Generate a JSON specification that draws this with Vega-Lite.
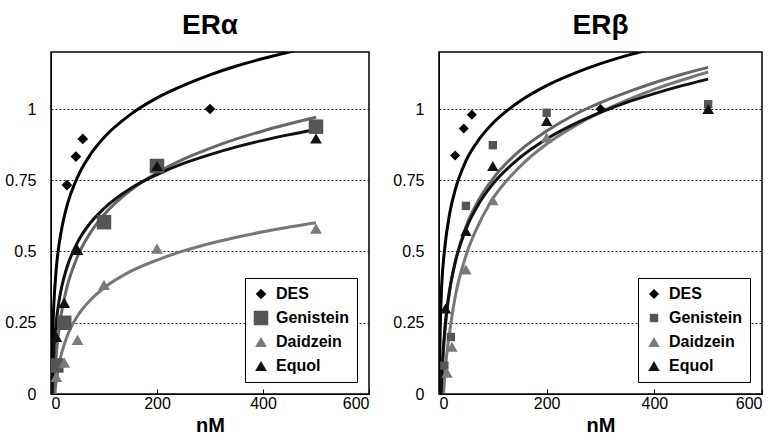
{
  "$schema": "https://vega.github.io/schema/vega-lite/v6.json",
  "padding": {"left": 4, "top": 11, "right": 6, "bottom": 4},
  "spacing": 21,
  "config": {
    "font": "Liberation Sans",
    "view": {"stroke": "black", "strokeWidth": 1.5},
    "title": {"fontSize": 28, "fontWeight": "bold", "offset": 12, "color": "black", "anchor": "middle"},
    "axis": {"labelFontSize": 16, "labelColor": "black", "titleFontSize": 20, "titleFontWeight": "bold", "titleColor": "black", "domainColor": "black", "tickColor": "black"},
    "legend": {"orient": "bottom-right", "offset": 12, "strokeColor": "black", "fillColor": "white", "padding": 8, "labelFontWeight": "bold", "labelFontSize": 16, "labelColor": "black", "rowPadding": 8, "symbolStrokeWidth": 0, "labelOffset": 7, "cornerRadius": 0}
  },
  "datasets": {
    "curves": [
      {"receptor": "ERα", "compound": "DES", "x": 1.2, "y": 0.015},
      {"receptor": "ERα", "compound": "DES", "x": 2, "y": 0.118},
      {"receptor": "ERα", "compound": "DES", "x": 3, "y": 0.199},
      {"receptor": "ERα", "compound": "DES", "x": 5, "y": 0.301},
      {"receptor": "ERα", "compound": "DES", "x": 10, "y": 0.44},
      {"receptor": "ERα", "compound": "DES", "x": 20, "y": 0.578},
      {"receptor": "ERα", "compound": "DES", "x": 30, "y": 0.659},
      {"receptor": "ERα", "compound": "DES", "x": 50, "y": 0.761},
      {"receptor": "ERα", "compound": "DES", "x": 75, "y": 0.842},
      {"receptor": "ERα", "compound": "DES", "x": 100, "y": 0.9},
      {"receptor": "ERα", "compound": "DES", "x": 150, "y": 0.981},
      {"receptor": "ERα", "compound": "DES", "x": 200, "y": 1.039},
      {"receptor": "ERα", "compound": "DES", "x": 250, "y": 1.083},
      {"receptor": "ERα", "compound": "DES", "x": 300, "y": 1.12},
      {"receptor": "ERα", "compound": "DES", "x": 350, "y": 1.151},
      {"receptor": "ERα", "compound": "DES", "x": 400, "y": 1.177},
      {"receptor": "ERα", "compound": "DES", "x": 470, "y": 1.209},
      {"receptor": "ERα", "compound": "DES", "x": 500, "y": 1.222},
      {"receptor": "ERα", "compound": "Daidzein", "x": 7.3, "y": 0.0},
      {"receptor": "ERα", "compound": "Daidzein", "x": 10, "y": 0.045},
      {"receptor": "ERα", "compound": "Daidzein", "x": 15, "y": 0.103},
      {"receptor": "ERα", "compound": "Daidzein", "x": 20, "y": 0.143},
      {"receptor": "ERα", "compound": "Daidzein", "x": 30, "y": 0.201},
      {"receptor": "ERα", "compound": "Daidzein", "x": 50, "y": 0.274},
      {"receptor": "ERα", "compound": "Daidzein", "x": 75, "y": 0.331},
      {"receptor": "ERα", "compound": "Daidzein", "x": 100, "y": 0.372},
      {"receptor": "ERα", "compound": "Daidzein", "x": 150, "y": 0.43},
      {"receptor": "ERα", "compound": "Daidzein", "x": 200, "y": 0.47},
      {"receptor": "ERα", "compound": "Daidzein", "x": 250, "y": 0.502},
      {"receptor": "ERα", "compound": "Daidzein", "x": 300, "y": 0.528},
      {"receptor": "ERα", "compound": "Daidzein", "x": 350, "y": 0.55},
      {"receptor": "ERα", "compound": "Daidzein", "x": 400, "y": 0.569},
      {"receptor": "ERα", "compound": "Daidzein", "x": 450, "y": 0.586},
      {"receptor": "ERα", "compound": "Daidzein", "x": 500, "y": 0.601},
      {"receptor": "ERα", "compound": "Genistein", "x": 5.2, "y": 0.003},
      {"receptor": "ERα", "compound": "Genistein", "x": 7, "y": 0.066},
      {"receptor": "ERα", "compound": "Genistein", "x": 10, "y": 0.141},
      {"receptor": "ERα", "compound": "Genistein", "x": 15, "y": 0.227},
      {"receptor": "ERα", "compound": "Genistein", "x": 20, "y": 0.288},
      {"receptor": "ERα", "compound": "Genistein", "x": 30, "y": 0.374},
      {"receptor": "ERα", "compound": "Genistein", "x": 50, "y": 0.482},
      {"receptor": "ERα", "compound": "Genistein", "x": 75, "y": 0.568},
      {"receptor": "ERα", "compound": "Genistein", "x": 100, "y": 0.629},
      {"receptor": "ERα", "compound": "Genistein", "x": 150, "y": 0.715},
      {"receptor": "ERα", "compound": "Genistein", "x": 200, "y": 0.776},
      {"receptor": "ERα", "compound": "Genistein", "x": 250, "y": 0.824},
      {"receptor": "ERα", "compound": "Genistein", "x": 300, "y": 0.862},
      {"receptor": "ERα", "compound": "Genistein", "x": 350, "y": 0.895},
      {"receptor": "ERα", "compound": "Genistein", "x": 400, "y": 0.923},
      {"receptor": "ERα", "compound": "Genistein", "x": 450, "y": 0.948},
      {"receptor": "ERα", "compound": "Genistein", "x": 500, "y": 0.971},
      {"receptor": "ERα", "compound": "Equol", "x": 2.3, "y": 0.002},
      {"receptor": "ERα", "compound": "Equol", "x": 3, "y": 0.048},
      {"receptor": "ERα", "compound": "Equol", "x": 5, "y": 0.136},
      {"receptor": "ERα", "compound": "Equol", "x": 7, "y": 0.194},
      {"receptor": "ERα", "compound": "Equol", "x": 10, "y": 0.255},
      {"receptor": "ERα", "compound": "Equol", "x": 15, "y": 0.325},
      {"receptor": "ERα", "compound": "Equol", "x": 20, "y": 0.374},
      {"receptor": "ERα", "compound": "Equol", "x": 30, "y": 0.444},
      {"receptor": "ERα", "compound": "Equol", "x": 50, "y": 0.532},
      {"receptor": "ERα", "compound": "Equol", "x": 75, "y": 0.602},
      {"receptor": "ERα", "compound": "Equol", "x": 100, "y": 0.651},
      {"receptor": "ERα", "compound": "Equol", "x": 150, "y": 0.721},
      {"receptor": "ERα", "compound": "Equol", "x": 200, "y": 0.77},
      {"receptor": "ERα", "compound": "Equol", "x": 250, "y": 0.809},
      {"receptor": "ERα", "compound": "Equol", "x": 300, "y": 0.84},
      {"receptor": "ERα", "compound": "Equol", "x": 350, "y": 0.867},
      {"receptor": "ERα", "compound": "Equol", "x": 400, "y": 0.89},
      {"receptor": "ERα", "compound": "Equol", "x": 450, "y": 0.91},
      {"receptor": "ERα", "compound": "Equol", "x": 500, "y": 0.928},
      {"receptor": "ERβ", "compound": "DES", "x": 0.7, "y": 0.007},
      {"receptor": "ERβ", "compound": "DES", "x": 1, "y": 0.075},
      {"receptor": "ERβ", "compound": "DES", "x": 2, "y": 0.207},
      {"receptor": "ERβ", "compound": "DES", "x": 3, "y": 0.284},
      {"receptor": "ERβ", "compound": "DES", "x": 5, "y": 0.381},
      {"receptor": "ERβ", "compound": "DES", "x": 10, "y": 0.5},
      {"receptor": "ERβ", "compound": "DES", "x": 20, "y": 0.635},
      {"receptor": "ERβ", "compound": "DES", "x": 30, "y": 0.715},
      {"receptor": "ERβ", "compound": "DES", "x": 50, "y": 0.818},
      {"receptor": "ERβ", "compound": "DES", "x": 75, "y": 0.895},
      {"receptor": "ERβ", "compound": "DES", "x": 100, "y": 0.95},
      {"receptor": "ERβ", "compound": "DES", "x": 150, "y": 1.027},
      {"receptor": "ERβ", "compound": "DES", "x": 200, "y": 1.082},
      {"receptor": "ERβ", "compound": "DES", "x": 250, "y": 1.124},
      {"receptor": "ERβ", "compound": "DES", "x": 300, "y": 1.159},
      {"receptor": "ERβ", "compound": "DES", "x": 350, "y": 1.188},
      {"receptor": "ERβ", "compound": "DES", "x": 400, "y": 1.213},
      {"receptor": "ERβ", "compound": "Genistein", "x": 4.5, "y": 0.001},
      {"receptor": "ERβ", "compound": "Genistein", "x": 7, "y": 0.109},
      {"receptor": "ERβ", "compound": "Genistein", "x": 10, "y": 0.196},
      {"receptor": "ERβ", "compound": "Genistein", "x": 15, "y": 0.294},
      {"receptor": "ERβ", "compound": "Genistein", "x": 20, "y": 0.364},
      {"receptor": "ERβ", "compound": "Genistein", "x": 30, "y": 0.462},
      {"receptor": "ERβ", "compound": "Genistein", "x": 50, "y": 0.587},
      {"receptor": "ERβ", "compound": "Genistein", "x": 75, "y": 0.685},
      {"receptor": "ERβ", "compound": "Genistein", "x": 100, "y": 0.755},
      {"receptor": "ERβ", "compound": "Genistein", "x": 150, "y": 0.854},
      {"receptor": "ERβ", "compound": "Genistein", "x": 200, "y": 0.923},
      {"receptor": "ERβ", "compound": "Genistein", "x": 250, "y": 0.978},
      {"receptor": "ERβ", "compound": "Genistein", "x": 300, "y": 1.022},
      {"receptor": "ERβ", "compound": "Genistein", "x": 350, "y": 1.059},
      {"receptor": "ERβ", "compound": "Genistein", "x": 400, "y": 1.092},
      {"receptor": "ERβ", "compound": "Genistein", "x": 450, "y": 1.121},
      {"receptor": "ERβ", "compound": "Genistein", "x": 500, "y": 1.146},
      {"receptor": "ERβ", "compound": "Daidzein", "x": 8.5, "y": 0.002},
      {"receptor": "ERβ", "compound": "Daidzein", "x": 10, "y": 0.047},
      {"receptor": "ERβ", "compound": "Daidzein", "x": 15, "y": 0.15},
      {"receptor": "ERβ", "compound": "Daidzein", "x": 20, "y": 0.22},
      {"receptor": "ERβ", "compound": "Daidzein", "x": 30, "y": 0.34},
      {"receptor": "ERβ", "compound": "Daidzein", "x": 50, "y": 0.485},
      {"receptor": "ERβ", "compound": "Daidzein", "x": 75, "y": 0.6},
      {"receptor": "ERβ", "compound": "Daidzein", "x": 100, "y": 0.685},
      {"receptor": "ERβ", "compound": "Daidzein", "x": 150, "y": 0.797},
      {"receptor": "ERβ", "compound": "Daidzein", "x": 200, "y": 0.877},
      {"receptor": "ERβ", "compound": "Daidzein", "x": 250, "y": 0.938},
      {"receptor": "ERβ", "compound": "Daidzein", "x": 300, "y": 0.989},
      {"receptor": "ERβ", "compound": "Daidzein", "x": 350, "y": 1.032},
      {"receptor": "ERβ", "compound": "Daidzein", "x": 400, "y": 1.069},
      {"receptor": "ERβ", "compound": "Daidzein", "x": 450, "y": 1.101},
      {"receptor": "ERβ", "compound": "Daidzein", "x": 500, "y": 1.13},
      {"receptor": "ERβ", "compound": "Equol", "x": 4, "y": 0.0},
      {"receptor": "ERβ", "compound": "Equol", "x": 5, "y": 0.051},
      {"receptor": "ERβ", "compound": "Equol", "x": 7, "y": 0.128},
      {"receptor": "ERβ", "compound": "Equol", "x": 10, "y": 0.209},
      {"receptor": "ERβ", "compound": "Equol", "x": 15, "y": 0.302},
      {"receptor": "ERβ", "compound": "Equol", "x": 20, "y": 0.368},
      {"receptor": "ERβ", "compound": "Equol", "x": 30, "y": 0.461},
      {"receptor": "ERβ", "compound": "Equol", "x": 50, "y": 0.578},
      {"receptor": "ERβ", "compound": "Equol", "x": 75, "y": 0.671},
      {"receptor": "ERβ", "compound": "Equol", "x": 100, "y": 0.737},
      {"receptor": "ERβ", "compound": "Equol", "x": 150, "y": 0.829},
      {"receptor": "ERβ", "compound": "Equol", "x": 200, "y": 0.895},
      {"receptor": "ERβ", "compound": "Equol", "x": 250, "y": 0.946},
      {"receptor": "ERβ", "compound": "Equol", "x": 300, "y": 0.988},
      {"receptor": "ERβ", "compound": "Equol", "x": 350, "y": 1.024},
      {"receptor": "ERβ", "compound": "Equol", "x": 400, "y": 1.054},
      {"receptor": "ERβ", "compound": "Equol", "x": 450, "y": 1.081},
      {"receptor": "ERβ", "compound": "Equol", "x": 500, "y": 1.105}
    ],
    "points": [
      {"receptor": "ERα", "compound": "DES", "x": 30, "y": 0.733},
      {"receptor": "ERα", "compound": "DES", "x": 47, "y": 0.833},
      {"receptor": "ERα", "compound": "DES", "x": 60, "y": 0.895},
      {"receptor": "ERα", "compound": "DES", "x": 300, "y": 1.0},
      {"receptor": "ERα", "compound": "Genistein", "x": 10, "y": 0.1},
      {"receptor": "ERα", "compound": "Genistein", "x": 25, "y": 0.25},
      {"receptor": "ERα", "compound": "Genistein", "x": 100, "y": 0.603},
      {"receptor": "ERα", "compound": "Genistein", "x": 200, "y": 0.8},
      {"receptor": "ERα", "compound": "Genistein", "x": 500, "y": 0.938},
      {"receptor": "ERα", "compound": "Daidzein", "x": 10, "y": 0.06},
      {"receptor": "ERα", "compound": "Daidzein", "x": 25, "y": 0.11},
      {"receptor": "ERα", "compound": "Daidzein", "x": 50, "y": 0.19},
      {"receptor": "ERα", "compound": "Daidzein", "x": 100, "y": 0.383},
      {"receptor": "ERα", "compound": "Daidzein", "x": 200, "y": 0.51},
      {"receptor": "ERα", "compound": "Daidzein", "x": 500, "y": 0.58},
      {"receptor": "ERα", "compound": "Equol", "x": 10, "y": 0.2},
      {"receptor": "ERα", "compound": "Equol", "x": 25, "y": 0.32},
      {"receptor": "ERα", "compound": "Equol", "x": 50, "y": 0.506},
      {"receptor": "ERα", "compound": "Equol", "x": 200, "y": 0.8},
      {"receptor": "ERα", "compound": "Equol", "x": 500, "y": 0.897},
      {"receptor": "ERβ", "compound": "DES", "x": 30, "y": 0.837},
      {"receptor": "ERβ", "compound": "DES", "x": 46, "y": 0.932},
      {"receptor": "ERβ", "compound": "DES", "x": 61, "y": 0.98},
      {"receptor": "ERβ", "compound": "DES", "x": 300, "y": 1.0},
      {"receptor": "ERβ", "compound": "Genistein", "x": 10, "y": 0.1},
      {"receptor": "ERβ", "compound": "Genistein", "x": 22, "y": 0.2},
      {"receptor": "ERβ", "compound": "Genistein", "x": 50, "y": 0.66},
      {"receptor": "ERβ", "compound": "Genistein", "x": 100, "y": 0.873},
      {"receptor": "ERβ", "compound": "Genistein", "x": 200, "y": 0.987},
      {"receptor": "ERβ", "compound": "Genistein", "x": 500, "y": 1.017},
      {"receptor": "ERβ", "compound": "Daidzein", "x": 15, "y": 0.074},
      {"receptor": "ERβ", "compound": "Daidzein", "x": 24, "y": 0.166},
      {"receptor": "ERβ", "compound": "Daidzein", "x": 50, "y": 0.437},
      {"receptor": "ERβ", "compound": "Daidzein", "x": 100, "y": 0.68},
      {"receptor": "ERβ", "compound": "Daidzein", "x": 200, "y": 0.9},
      {"receptor": "ERβ", "compound": "Daidzein", "x": 500, "y": 1.0},
      {"receptor": "ERβ", "compound": "Equol", "x": 12, "y": 0.3},
      {"receptor": "ERβ", "compound": "Equol", "x": 50, "y": 0.572},
      {"receptor": "ERβ", "compound": "Equol", "x": 100, "y": 0.8},
      {"receptor": "ERβ", "compound": "Equol", "x": 200, "y": 0.958},
      {"receptor": "ERβ", "compound": "Equol", "x": 500, "y": 1.0}
    ]
  },
  "resolve": {
    "scale": {"size": "independent"},
    "legend": {"color": "independent", "shape": "independent", "size": "independent"}
  },
  "hconcat": [
    {
      "title": {"text": "ERα"},
      "width": 318,
      "height": 342,
      "layer": [
        {
          "data": {"name": "curves"},
          "transform": [{"filter": {"field": "receptor", "equal": "ERα"}}],
          "mark": {"type": "line", "clip": true, "strokeWidth": 3, "interpolate": "monotone"},
          "encoding": {
            "x": {"field": "x", "type": "quantitative", "scale": {"domain": [0, 600], "nice": false},
                  "axis": {"values": [0, 200, 400, 600], "format": "d", "title": "nM", "grid": false, "tickSize": -5, "labelPadding": 6}},
            "y": {"field": "y", "type": "quantitative", "scale": {"domain": [0, 1.2], "nice": false},
                  "axis": {"values": [0, 0.25, 0.5, 0.75, 1], "format": "~g", "title": null, "grid": true, "gridDash": [2, 2], "gridColor": "#222", "ticks": false, "labelPadding": 15}},
            "stroke": {"field": "compound", "type": "nominal", "legend": null,
                       "scale": {"domain": ["DES", "Genistein", "Daidzein", "Equol"], "range": ["#000000", "#666666", "#777777", "#111111"]}}
          }
        },
        {
          "data": {"name": "points"},
          "transform": [{"filter": {"field": "receptor", "equal": "ERα"}}],
          "mark": {"type": "point", "filled": true, "opacity": 1, "clip": true},
          "encoding": {
            "x": {"field": "x", "type": "quantitative"},
            "y": {"field": "y", "type": "quantitative"},
            "color": {"field": "compound", "type": "nominal", "legend": {"title": null},
                      "scale": {"domain": ["DES", "Genistein", "Daidzein", "Equol"], "range": ["#000000", "#555555", "#7a7a7a", "#111111"]}},
            "shape": {"field": "compound", "type": "nominal", "legend": {"title": null},
                      "scale": {"domain": ["DES", "Genistein", "Daidzein", "Equol"], "range": ["diamond", "square", "triangle-up", "triangle-up"]}},
            "size": {"field": "compound", "type": "nominal", "legend": {"title": null},
                     "scale": {"type": "ordinal", "domain": ["DES", "Genistein", "Daidzein", "Equol"], "range": [115, 210, 140, 140]}}
          }
        }
      ]
    },
    {
      "title": {"text": "ERβ"},
      "width": 323,
      "height": 342,
      "layer": [
        {
          "data": {"name": "curves"},
          "transform": [{"filter": {"field": "receptor", "equal": "ERβ"}}],
          "mark": {"type": "line", "clip": true, "strokeWidth": 3, "interpolate": "monotone"},
          "encoding": {
            "x": {"field": "x", "type": "quantitative", "scale": {"domain": [0, 600], "nice": false},
                  "axis": {"values": [0, 200, 400, 600], "format": "d", "title": "nM", "grid": false, "tickSize": -5, "labelPadding": 6}},
            "y": {"field": "y", "type": "quantitative", "scale": {"domain": [0, 1.2], "nice": false},
                  "axis": {"values": [0, 0.25, 0.5, 0.75, 1], "format": "~g", "title": null, "grid": true, "gridDash": [2, 2], "gridColor": "#222", "ticks": false, "labelPadding": 15}},
            "stroke": {"field": "compound", "type": "nominal", "legend": null,
                       "scale": {"domain": ["DES", "Genistein", "Daidzein", "Equol"], "range": ["#000000", "#666666", "#777777", "#111111"]}}
          }
        },
        {
          "data": {"name": "points"},
          "transform": [{"filter": {"field": "receptor", "equal": "ERβ"}}],
          "mark": {"type": "point", "filled": true, "opacity": 1, "clip": true},
          "encoding": {
            "x": {"field": "x", "type": "quantitative"},
            "y": {"field": "y", "type": "quantitative"},
            "color": {"field": "compound", "type": "nominal", "legend": {"title": null},
                      "scale": {"domain": ["DES", "Genistein", "Daidzein", "Equol"], "range": ["#000000", "#555555", "#7a7a7a", "#111111"]}},
            "shape": {"field": "compound", "type": "nominal", "legend": {"title": null},
                      "scale": {"domain": ["DES", "Genistein", "Daidzein", "Equol"], "range": ["diamond", "square", "triangle-up", "triangle-up"]}},
            "size": {"field": "compound", "type": "nominal", "legend": {"title": null},
                     "scale": {"type": "ordinal", "domain": ["DES", "Genistein", "Daidzein", "Equol"], "range": [100, 70, 130, 130]}}
          }
        }
      ]
    }
  ]
}
